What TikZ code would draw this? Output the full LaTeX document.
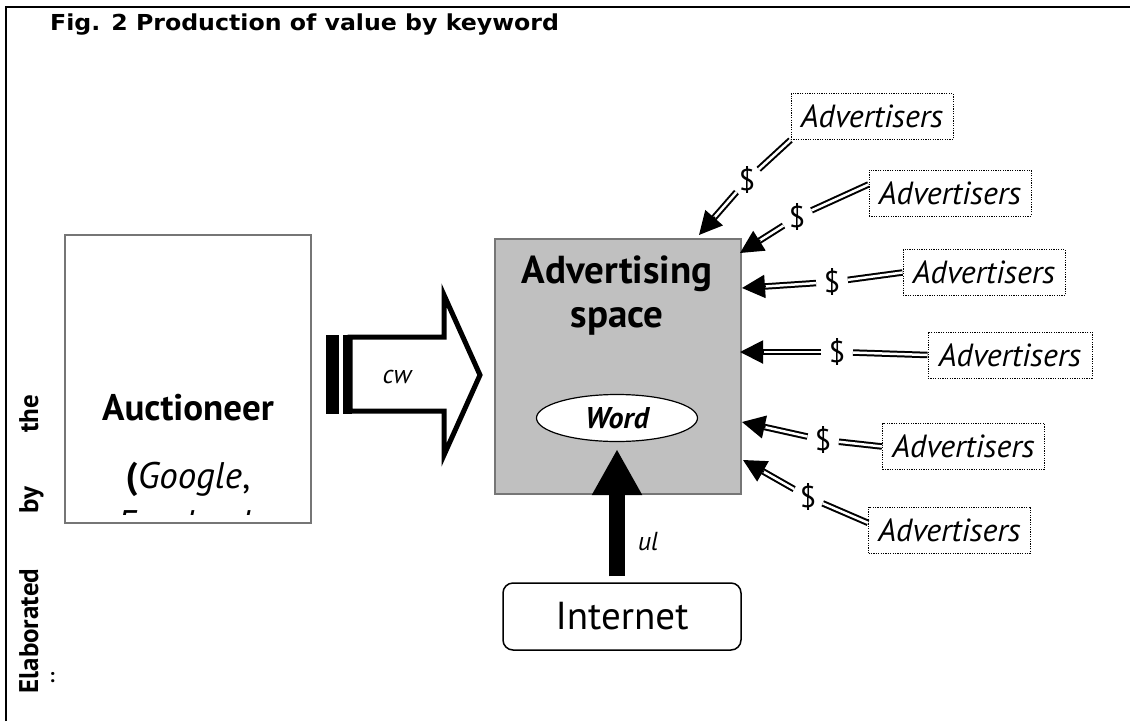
\documentclass[tikz,border=0pt]{standalone}
\usepackage{fontspec}
\setmainfont{PT Sans}
\newfontfamily\headfont{DejaVu Sans}
\usetikzlibrary{arrows.meta, shapes.geometric, calc}
\definecolor{spacegray}{RGB}{192, 192, 192}
\definecolor{edgegray}{RGB}{118, 118, 118}

\begin{document}
\begin{tikzpicture}[x=1pt, y=-1pt,
        every node/.style={inner sep=0pt},
        boxlabel/.style={font=\fontsize{37}{40}\selectfont\bfseries, anchor=base},
        sidelabel/.style={font=\fontsize{27}{30}\selectfont\bfseries, rotate=90, anchor=base},
        smalllabel/.style={font=\fontsize{26}{30}\selectfont\itshape, anchor=base},
        adbox/.style={draw, dash pattern=on 1.2pt off 1.2pt, line width=1pt,
            minimum width=162pt, minimum height=46pt, font=\fontsize{32}{34}\selectfont\itshape},
        dollar/.style={circle, minimum size=30pt, font=\fontsize{30}{32}\selectfont},
        dbl/.style={double, double distance=2.5pt, line width=2pt},
        head/.style={line width=2pt, -{Triangle[length=23pt, width=23pt]}}]

        \useasboundingbox (0,0) rectangle (1130,721);

        % Frame and title
        \draw[line width=2pt] (6,721) -- (6,7) -- (1130,7);
        \node[anchor=base west, font=\headfont\fontsize{22}{26}\selectfont\bfseries,
            xscale=1.075, transform shape] (title) at (50,30) {Fig. 2 Production of value by keyword};

        % Side note
        \node[sidelabel] (elab) at (38,631) {Elaborated};
        \node[sidelabel] (elabby) at (38,500) {by};
        \node[sidelabel] (elabthe) at (38,414) {the};
        \node[font=\fontsize{20}{22}\selectfont\bfseries] (elabcolon) at (52,678) {:};

        % Auctioneer
        \node[draw=edgegray, line width=1.5pt, minimum width=246pt, minimum height=288pt] (auct) at (188,379) {};
        \begin{scope}
            \clip (66,236) rectangle (310,514);
            \node[boxlabel] (auctname) at (188,420) {Auctioneer};
            \node[boxlabel, font=\fontsize{37}{40}\selectfont] (auctgoogle) at (188,488) {\textbf{(}\textit{Google},};
            \node[boxlabel, font=\fontsize{37}{40}\selectfont] (auctfb) at (188,536) {\textit{Facebook}};
        \end{scope}

        % Striped arrow cw
        \fill (326,335) rectangle (339,414);
        \fill (343,335) rectangle (352,414);
        \draw[line width=5pt, fill=white] (350,337) -- (444,337) -- (444,295) -- (480,375)
            -- (444,455) -- (444,411) -- (350,411) -- cycle;
        \node[smalllabel] (cwlabel) at (397,383) {cw};

        % Advertising space
        \node[draw=edgegray, fill=spacegray, line width=1.5pt, minimum width=246pt, minimum height=255pt] (space) at (618,366.5) {};
        \node[boxlabel, font=\fontsize{39}{42}\selectfont\bfseries] (spacetop) at (617,283) {Advertising};
        \node[boxlabel, font=\fontsize{39}{42}\selectfont\bfseries] (spacebot) at (617,327) {space};
        \node[ellipse, draw, fill=white, line width=1.2pt, minimum width=161pt, minimum height=47pt,
            font=\fontsize{30}{32}\selectfont\bfseries\itshape] (word) at (617,418) {Word};

        % Internet
        \node[draw, rounded corners=10pt, line width=1.5pt, minimum width=238pt, minimum height=67pt,
            font=\fontsize{39}{42}\selectfont] (inet) at (622,616.5) {Internet};
        \draw[line width=16pt, -{Triangle[length=46pt, width=47pt]}, shorten <=6pt, shorten >=7pt]
            (inet.north -| word.south) -- (word.south);
        \node[smalllabel] (ullabel) at (648,550) {ul};

        % Advertisers
        \node[adbox] (a1) at (872,116.5) {Advertisers};
        \node[adbox] (a2) at (950,193) {Advertisers};
        \node[adbox] (a3) at (984,272.5) {Advertisers};
        \node[adbox, minimum width=164pt] (a4) at (1010,355) {Advertisers};
        \node[adbox] (a5) at (963.5,446.5) {Advertisers};
        \node[adbox] (a6) at (949.5,530) {Advertisers};

        \node[dollar] (d1) at (747,180) {\$};
        \node[dollar] (d2) at (797,217) {\$};
        \node[dollar] (d3) at (832,282) {\$};
        \node[dollar] (d4) at (837,352) {\$};
        \node[dollar] (d5) at (823,440) {\$};
        \node[dollar] (d6) at (808,497) {\$};

        \coordinate (t1) at (699,235);
        \coordinate (t2) at (740,253);
        \coordinate (t3) at (742,288);
        \coordinate (t4) at (740,352);
        \coordinate (t5) at (742,422);
        \coordinate (t6) at (743,460);

        % Payments
        \draw[dbl] (a1.south west) -- (d1);
        \draw[dbl, shorten >=20pt] (d1) -- (t1);
        \draw[head] ($(t1)!24pt!(d1)$) -- (t1);

        \draw[dbl] (a2.174) -- (d2);
        \draw[dbl, shorten >=20pt] (d2) -- (t2);
        \draw[head] ($(t2)!24pt!(d2)$) -- (t2);

        \draw[dbl] (a3.west) -- (d3);
        \draw[dbl, shorten >=20pt] (d3) -- (t3);
        \draw[head] ($(t3)!24pt!(d3)$) -- (t3);

        \draw[dbl] (a4.west) -- (d4);
        \draw[dbl, shorten >=20pt] (d4) -- (t4);
        \draw[head] ($(t4)!24pt!(d4)$) -- (t4);

        \draw[dbl] (a5.west) -- (d5);
        \draw[dbl, shorten >=20pt] (d5) -- (t5);
        \draw[head] ($(t5)!24pt!(d5)$) -- (t5);

        \draw[dbl] (a6.175) -- (d6);
        \draw[dbl, shorten >=20pt] (d6) -- (t6);
        \draw[head] ($(t6)!24pt!(d6)$) -- (t6);

\end{tikzpicture}
\end{document}
